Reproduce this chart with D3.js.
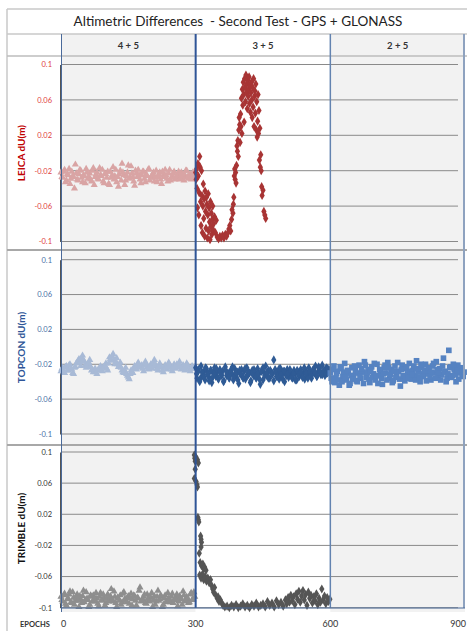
<!DOCTYPE html>
<html>
<head>
<meta charset="utf-8">
<script src="https://cdn.jsdelivr.net/npm/d3@7"></script>
<style>
body{margin:0;background:#fff;}
text{font-family:Lato,"Open Sans",sans-serif;white-space:pre;}
</style>
</head>
<body>
<svg id="chart" width="467" height="631"></svg>
<script>
// ---- data ----
var title = "Altimetric Differences  - Second Test - GPS + GLONASS";
var groups = ["4 + 5", "3 + 5", "2 + 5"];
var groupEdges = [0, 300, 600, 900];
var yTicks = [0.1, 0.06, 0.02, -0.02, -0.06, -0.1];
var yTickLabels = ["0.1", "0.06", "0.02", "-0.02", "-0.06", "-0.1"];
var xTicks = [0, 300, 600, 900];
var receivers = ["LEICA dU(m)", "TOPCON dU(m)", "TRIMBLE dU(m)"];

// values sampled every 4 epochs (from epoch 0 and from epoch 2)
var leicaA = [-0.022,-0.028,-0.019,-0.031,-0.025,-0.035,-0.021,-0.027,-0.013,-0.030,-0.024,-0.020,-0.033,-0.026,-0.018,-0.029,-0.023,-0.032,-0.017,-0.027,-0.022,-0.030,-0.025,-0.019,-0.034,-0.024,-0.021,-0.036,-0.028,-0.016,-0.026,-0.033,-0.038,-0.020,-0.012,-0.025,-0.031,-0.022,-0.029,-0.015,-0.027,-0.037,-0.023,-0.019,-0.030,-0.025,-0.021,-0.033,-0.026,-0.018,-0.028,-0.024,-0.032,-0.020,-0.027,-0.022,-0.035,-0.025,-0.019,-0.029,-0.023,-0.031,-0.026,-0.021,-0.028,-0.024,-0.030,-0.022,-0.027,-0.025,-0.020,-0.029,-0.024,-0.026,-0.023];
var leicaA2 = [-0.027,-0.021,-0.033,-0.024,-0.018,-0.029,-0.026,-0.040,-0.023,-0.031,-0.019,-0.028,-0.025,-0.034,-0.022,-0.027,-0.030,-0.020,-0.036,-0.024,-0.029,-0.017,-0.026,-0.032,-0.023,-0.028,-0.035,-0.021,-0.025,-0.030,-0.019,-0.027,-0.024,-0.031,-0.022,-0.036,-0.026,-0.014,-0.028,-0.023,-0.032,-0.020,-0.027,-0.025,-0.034,-0.021,-0.029,-0.024,-0.019,-0.031,-0.026,-0.022,-0.028,-0.033,-0.024,-0.030,-0.021,-0.027,-0.025,-0.032,-0.019,-0.028,-0.023,-0.030,-0.026,-0.021,-0.029,-0.024,-0.031,-0.020,-0.027,-0.025,-0.030,-0.022,-0.028];
// [epoch, dU]
var leicaB = [[300,-0.022],[301,-0.030],[302,-0.018],[303,-0.040],[304,-0.062],[305,-0.012],[306,-0.026],[307,-0.070],[308,-0.045],[309,-0.004],[310,-0.016],[311,-0.055],[312,-0.082],[313,-0.020],[314,-0.048],[315,-0.090],[316,-0.060],[317,-0.035],[318,-0.074],[319,-0.052],[320,-0.094],[321,-0.043],[322,-0.066],[323,-0.085],[324,-0.050],[325,-0.058],[326,-0.096],[327,-0.070],[328,-0.046],[329,-0.088],[330,-0.062],[331,-0.078],[332,-0.098],[333,-0.055],[334,-0.083],[335,-0.068],[336,-0.092],[337,-0.075],[338,-0.060],[339,-0.087],[340,-0.080],[342,-0.072],[344,-0.090],[346,-0.076],[348,-0.095],[351,-0.097],[354,-0.094],[357,-0.096],[360,-0.093],[363,-0.096],[366,-0.092],[369,-0.094],[372,-0.090],[374,-0.086],[376,-0.082],[378,-0.088],[380,-0.075],[381,-0.064],[383,-0.068],[384,-0.058],[385,-0.050],[386,-0.026],[387,-0.018],[388,-0.030],[389,-0.022],[390,-0.034],[391,-0.014],[392,0.008],[393,0.002],[394,0.014],[395,-0.004],[396,0.026],[397,0.040],[398,0.032],[399,0.012],[400,0.044],[401,0.030],[402,0.062],[403,0.022],[404,0.072],[405,0.054],[406,0.080],[407,0.066],[408,0.035],[409,0.084],[410,0.074],[411,0.058],[412,0.088],[413,0.068],[414,0.078],[415,0.050],[416,0.082],[417,0.064],[418,0.072],[419,0.086],[420,0.056],[421,0.076],[422,0.046],[423,0.068],[424,0.080],[425,0.060],[426,0.040],[427,0.074],[428,0.052],[429,0.084],[430,0.030],[431,0.064],[432,0.070],[433,0.045],[434,0.078],[435,0.026],[436,0.058],[437,0.018],[438,0.036],[439,0.066],[440,0.022],[441,0.048],[442,-0.008],[443,0.028],[444,-0.016],[445,-0.002],[446,-0.020],[447,-0.038],[448,-0.048],[450,-0.042],[452,-0.066],[454,-0.070],[456,-0.074]];

var topconA = [-0.028,-0.024,-0.030,-0.022,-0.027,-0.020,-0.026,-0.031,-0.023,-0.018,-0.014,-0.022,-0.010,-0.017,-0.024,-0.020,-0.015,-0.027,-0.029,-0.025,-0.031,-0.026,-0.022,-0.028,-0.024,-0.019,-0.027,-0.012,-0.016,-0.008,-0.020,-0.013,-0.023,-0.018,-0.027,-0.030,-0.024,-0.033,-0.037,-0.027,-0.030,-0.022,-0.026,-0.018,-0.024,-0.021,-0.028,-0.017,-0.023,-0.026,-0.020,-0.025,-0.015,-0.022,-0.027,-0.019,-0.024,-0.029,-0.021,-0.026,-0.018,-0.023,-0.028,-0.020,-0.025,-0.022,-0.017,-0.026,-0.021,-0.027,-0.019,-0.024,-0.028,-0.022,-0.025];
var topconA2 = [-0.025,-0.029,-0.023,-0.027,-0.021,-0.025,-0.030,-0.024,-0.019,-0.016,-0.018,-0.013,-0.015,-0.021,-0.022,-0.018,-0.023,-0.026,-0.028,-0.029,-0.027,-0.024,-0.026,-0.023,-0.022,-0.025,-0.019,-0.014,-0.011,-0.015,-0.017,-0.020,-0.021,-0.024,-0.029,-0.027,-0.031,-0.035,-0.031,-0.029,-0.025,-0.024,-0.021,-0.022,-0.023,-0.025,-0.021,-0.020,-0.025,-0.023,-0.022,-0.019,-0.020,-0.025,-0.023,-0.022,-0.027,-0.024,-0.023,-0.021,-0.021,-0.026,-0.024,-0.023,-0.020,-0.020,-0.023,-0.024,-0.025,-0.022,-0.021,-0.026,-0.025,-0.024,-0.023];
// every 3 epochs from 300, plus every 4 epochs from 302
var topconB = [-0.024,-0.036,-0.028,-0.040,-0.022,-0.033,-0.029,-0.038,-0.025,-0.031,-0.035,-0.027,-0.041,-0.030,-0.024,-0.034,-0.029,-0.037,-0.026,-0.032,-0.028,-0.039,-0.023,-0.033,-0.030,-0.036,-0.027,-0.031,-0.038,-0.025,-0.034,-0.029,-0.042,-0.031,-0.026,-0.035,-0.028,-0.037,-0.024,-0.032,-0.030,-0.039,-0.027,-0.033,-0.029,-0.036,-0.025,-0.031,-0.043,-0.028,-0.038,-0.030,-0.022,-0.033,-0.027,-0.036,-0.029,-0.031,-0.015,-0.026,-0.034,-0.030,-0.037,-0.025,-0.032,-0.028,-0.040,-0.031,-0.026,-0.035,-0.029,-0.033,-0.036,-0.027,-0.031,-0.038,-0.029,-0.034,-0.026,-0.032,-0.030,-0.037,-0.028,-0.033,-0.024,-0.031,-0.036,-0.027,-0.030,-0.022,-0.034,-0.028,-0.025,-0.032,-0.021,-0.029,-0.033,-0.024,-0.030,-0.026];
var topconB2 = [-0.031,-0.026,-0.037,-0.029,-0.034,-0.024,-0.032,-0.039,-0.027,-0.035,-0.030,-0.025,-0.036,-0.028,-0.033,-0.040,-0.026,-0.031,-0.035,-0.029,-0.023,-0.034,-0.030,-0.038,-0.027,-0.032,-0.036,-0.025,-0.033,-0.029,-0.041,-0.030,-0.026,-0.035,-0.031,-0.037,-0.028,-0.024,-0.033,-0.030,-0.036,-0.027,-0.031,-0.039,-0.029,-0.034,-0.025,-0.032,-0.037,-0.028,-0.033,-0.030,-0.026,-0.035,-0.031,-0.038,-0.027,-0.032,-0.029,-0.035,-0.024,-0.031,-0.036,-0.028,-0.033,-0.026,-0.030,-0.034,-0.023,-0.029,-0.032,-0.027,-0.031,-0.025,-0.028];
// every 4 epochs from 600 and from 602
var topconC = [-0.030,-0.040,-0.022,-0.036,-0.028,-0.044,-0.025,-0.034,-0.019,-0.038,-0.030,-0.042,-0.024,-0.033,-0.027,-0.040,-0.021,-0.036,-0.029,-0.017,-0.035,-0.026,-0.041,-0.023,-0.031,-0.038,-0.020,-0.033,-0.027,-0.043,-0.024,-0.030,-0.018,-0.036,-0.026,-0.039,-0.022,-0.032,-0.028,-0.045,-0.021,-0.035,-0.025,-0.031,-0.019,-0.037,-0.027,-0.033,-0.016,-0.029,-0.040,-0.024,-0.034,-0.020,-0.031,-0.027,-0.038,-0.022,-0.030,-0.017,-0.035,-0.025,-0.032,-0.013,-0.028,-0.036,-0.004,-0.023,-0.033,-0.026,-0.040,-0.021,-0.030,-0.027,-0.034];
var topconC2 = [-0.036,-0.026,-0.041,-0.031,-0.038,-0.023,-0.040,-0.029,-0.035,-0.027,-0.044,-0.033,-0.037,-0.022,-0.039,-0.030,-0.034,-0.025,-0.042,-0.021,-0.030,-0.037,-0.028,-0.035,-0.019,-0.033,-0.042,-0.026,-0.036,-0.031,-0.021,-0.038,-0.024,-0.032,-0.041,-0.028,-0.035,-0.018,-0.037,-0.026,-0.033,-0.039,-0.023,-0.036,-0.028,-0.032,-0.022,-0.038,-0.025,-0.035,-0.020,-0.031,-0.027,-0.039,-0.024,-0.034,-0.029,-0.019,-0.036,-0.026,-0.030,-0.038,-0.022,-0.029,-0.040,-0.031,-0.024,-0.035,-0.020,-0.032,-0.027,-0.037,-0.024,-0.033,-0.029];

var trimbleA = [-0.086,-0.092,-0.082,-0.097,-0.088,-0.079,-0.094,-0.087,-0.091,-0.083,-0.099,-0.089,-0.085,-0.093,-0.080,-0.090,-0.096,-0.086,-0.084,-0.092,-0.088,-0.098,-0.081,-0.090,-0.087,-0.094,-0.083,-0.089,-0.076,-0.092,-0.086,-0.099,-0.088,-0.084,-0.093,-0.080,-0.090,-0.087,-0.095,-0.082,-0.089,-0.085,-0.097,-0.088,-0.074,-0.091,-0.086,-0.094,-0.083,-0.090,-0.087,-0.099,-0.085,-0.092,-0.078,-0.089,-0.086,-0.096,-0.084,-0.091,-0.088,-0.093,-0.082,-0.090,-0.087,-0.098,-0.085,-0.089,-0.079,-0.092,-0.086,-0.094,-0.083,-0.090,-0.080];
var trimbleA2 = [-0.090,-0.084,-0.095,-0.089,-0.083,-0.093,-0.080,-0.096,-0.087,-0.091,-0.085,-0.094,-0.078,-0.090,-0.088,-0.099,-0.084,-0.092,-0.089,-0.081,-0.095,-0.086,-0.091,-0.083,-0.097,-0.088,-0.092,-0.085,-0.090,-0.079,-0.094,-0.087,-0.091,-0.096,-0.082,-0.089,-0.093,-0.085,-0.088,-0.097,-0.084,-0.091,-0.087,-0.078,-0.092,-0.089,-0.083,-0.095,-0.088,-0.092,-0.081,-0.090,-0.096,-0.086,-0.091,-0.084,-0.099,-0.088,-0.093,-0.081,-0.090,-0.086,-0.094,-0.089,-0.083,-0.092,-0.087,-0.096,-0.084,-0.090,-0.088,-0.093,-0.081,-0.089,-0.086];
// [epoch, dU]
var trimbleB = [[297,0.096],[298,0.092],[299,0.088],[300,0.094],[304,0.090],[306,0.086],[299,0.078],[297,0.066],[301,0.062],[303,0.058],[304,0.055],[305,0.016],[306,0.013],[307,0.010],[311,-0.008],[312,-0.012],[313,-0.016],[312,-0.022],[308,-0.030],[310,-0.042],[313,-0.046],[316,-0.044],[318,-0.050],[320,-0.048],[323,-0.052],[309,-0.058],[312,-0.062],[315,-0.057],[318,-0.064],[321,-0.060],[324,-0.066],[327,-0.062],[330,-0.068],[333,-0.064],[336,-0.072],[338,-0.076],[340,-0.080],[342,-0.074],[345,-0.084],[348,-0.088],[350,-0.086],[352,-0.092],[355,-0.090],[358,-0.094],[361,-0.097],[365,-0.099],[370,-0.098],[375,-0.100],[380,-0.097],[385,-0.099],[390,-0.096],[395,-0.100],[400,-0.098],[405,-0.095],[410,-0.099],[415,-0.097],[420,-0.100],[425,-0.096],[430,-0.098],[435,-0.094],[440,-0.099],[445,-0.097],[450,-0.095],[455,-0.099],[460,-0.092],[465,-0.097],[470,-0.094],[475,-0.099],[480,-0.091],[485,-0.096],[490,-0.093],[495,-0.098],[500,-0.090],[503,-0.095],[506,-0.087],[509,-0.093],[512,-0.084],[515,-0.091],[518,-0.086],[521,-0.096],[524,-0.082],[527,-0.089],[530,-0.079],[533,-0.093],[536,-0.085],[539,-0.078],[542,-0.090],[545,-0.083],[548,-0.097],[551,-0.080],[554,-0.088],[557,-0.084],[560,-0.094],[563,-0.086],[566,-0.091],[569,-0.082],[572,-0.096],[575,-0.088],[578,-0.093],[581,-0.076],[584,-0.090],[587,-0.085],[590,-0.095],[593,-0.087],[596,-0.092],[599,-0.089]];

// ---- helpers ----
var series = function(vals, start, step){ return vals.map(function(v,i){ return [start+i*step, v]; }); };

var svg = d3.select("#chart");
var x = d3.scaleLinear().domain([0,900]).range([61,465]);

var panels = [
  {name: receivers[0], row:[56,250], plot:[241.5,64.5], tick:"#e0403c", ttl:"#c00000",
   sets:[{d:series(leicaA,0,4).concat(series(leicaA2,2,4)), sym:d3.symbolTriangle, size:22, c:"#d9a4a4"},
         {d:leicaB, sym:d3.symbolDiamond, size:24, c:"#a83434"}]},
  {name: receivers[1], row:[250,445], plot:[434,259.7], tick:"#4a6fa5", ttl:"#2e5597",
   sets:[{d:series(topconA,0,4).concat(series(topconA2,2,4)), sym:d3.symbolTriangle, size:22, c:"#a8bad6"},
         {d:series(topconB,300,3).concat(series(topconB2,302,4)), sym:d3.symbolDiamond, size:24, c:"#2f5b95"},
         {d:series(topconC,600,4).concat(series(topconC2,602,4)), sym:d3.symbolSquare, size:32, c:"#5683c2"}]},
  {name: receivers[2], row:[445,612], plot:[607.7,452], tick:"#333", ttl:"#111",
   sets:[{d:series(trimbleA,0,4).concat(series(trimbleA2,2,4)), sym:d3.symbolTriangle, size:22, c:"#8e8e8e"},
         {d:trimbleB, sym:d3.symbolDiamond, size:24, c:"#555555"}]}
];

// column backgrounds
panels.concat([{row:[34,56]}]).forEach(function(p){
  [0,1,2].forEach(function(k){
    svg.append("rect")
      .attr("x", x(groupEdges[k])).attr("y", p.row[0])
      .attr("width", x(groupEdges[k+1]) - x(groupEdges[k]))
      .attr("height", p.row[1]-p.row[0])
      .attr("fill", k==1 ? "#ffffff" : "#f2f2f2");
  });
});

// title + headers
svg.append("text").attr("x", 238).attr("y", 26).attr("text-anchor","middle")
  .attr("font-size", 13.5).attr("fill","#222").text(title);
svg.selectAll(".grp").data(groups).enter().append("text")
  .attr("x", function(d,i){ return (x(groupEdges[i])+x(groupEdges[i+1]))/2; })
  .attr("y", 49).attr("text-anchor","middle").attr("font-size", 9.5)
  .attr("font-weight","bold").attr("fill","#333").text(function(d){return d;});

panels.forEach(function(p){
  var y = d3.scaleLinear().domain([-0.1,0.1]).range(p.plot);
  var g = svg.append("g");
  // gridlines
  g.selectAll(".grid").data(yTicks).enter().append("line")
    .attr("x1", 61).attr("x2", 458)
    .attr("y1", function(d){return y(d);}).attr("y2", function(d){return y(d);})
    .attr("stroke","#8a8a8a").attr("stroke-width",1);
  // axis
  var ax = d3.axisLeft(y).tickValues(yTicks).tickSize(0).tickPadding(8)
    .tickFormat(function(d,i){ return yTickLabels[i]; });
  var axg = g.append("g").attr("transform","translate(60,0)").call(ax);
  axg.select(".domain").attr("stroke","#555");
  axg.selectAll("text").attr("fill", p.tick).attr("font-size", 7.5)
    .attr("font-family","Lato, 'Open Sans', sans-serif");
  // receiver label
  g.append("text")
    .attr("transform","translate(25,"+((p.row[0]+p.row[1])/2)+") rotate(-90)")
    .attr("text-anchor","middle").attr("font-size",10).attr("font-weight","bold")
    .attr("fill", p.ttl).text(p.name);
  // markers
  p.sets.forEach(function(s){
    g.selectAll(null).data(s.d).enter().append("path")
      .attr("d", d3.symbol().type(s.sym).size(s.size))
      .attr("transform", function(d){ return "translate("+x(d[0])+","+y(d[1])+")"; })
      .attr("fill", s.c);
  });
});

// frame lines
var line = function(x1,y1,x2,y2,c,w){
  svg.append("line").attr("x1",x1).attr("y1",y1).attr("x2",x2).attr("y2",y2)
    .attr("stroke",c).attr("stroke-width",w);
};
line(7,9,467,9,"#c8c8c8",1.5);
line(7,9,7,631,"#c8c8c8",1.5);
line(7,34,467,34,"#c8c8c8",1.5);
line(7,56,467,56,"#bdbdbd",1.5);
line(7,250,467,250,"#a8a8a8",2);
line(7,445,467,445,"#a8a8a8",2);
line(x(0)+0.5,34,x(0)+0.5,612,"#4a6a9a",1);
line(x(300),34,x(300),608,"#2f5597",2);
line(x(600),34,x(600),608,"#6383b0",1.5);
line(x(900)-1,34,x(900)-1,608,"#8ea2bf",2);
line(x(0),608,x(900),608,"#4a6a9a",1.2);

// x axis labels
svg.append("text").attr("x", 20).attr("y", 627).attr("font-size", 7.5)
  .attr("font-weight","bold").attr("fill","#333").text("EPOCHS");
svg.selectAll(".xt").data(xTicks).enter().append("text")
  .attr("x", function(d){ return d==900 ? 466 : x(d); }).attr("y", 627)
  .attr("text-anchor", function(d){ return d==0 ? "start" : (d==900 ? "end" : "middle"); })
  .attr("font-size", 9).attr("fill","#333").text(function(d){return d;});
</script>
</body>
</html>
